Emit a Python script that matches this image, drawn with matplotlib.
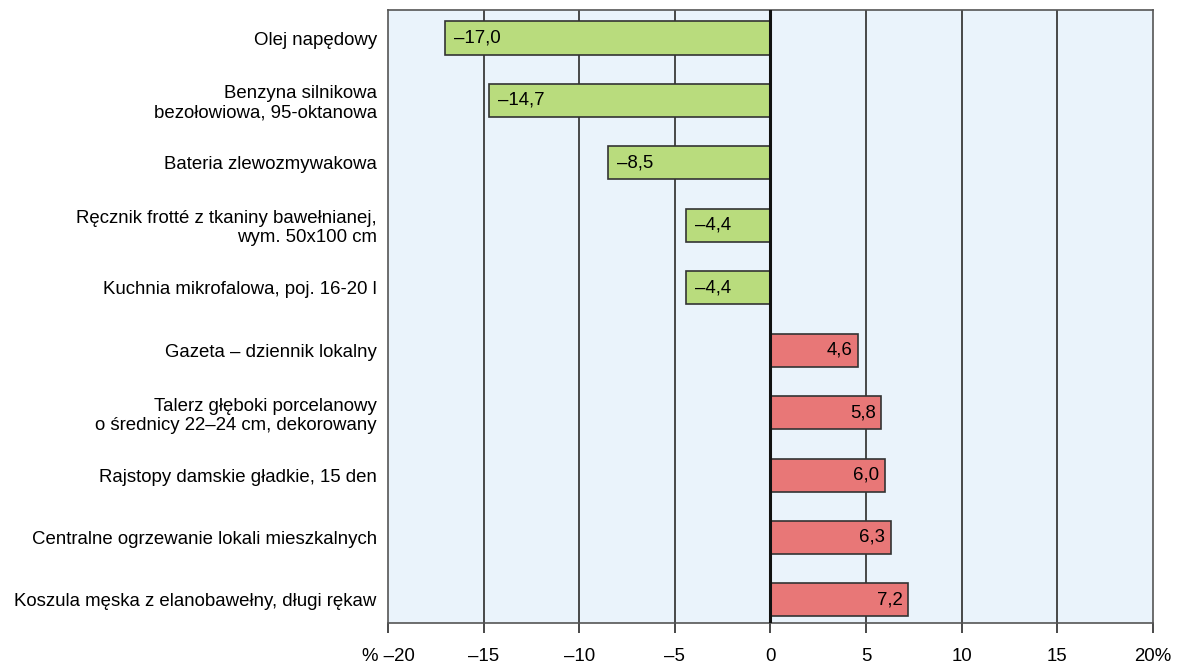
import matplotlib
matplotlib.use("Agg")
import matplotlib.pyplot as plt

categories = [
    "Olej napędowy",
    "Benzyna silnikowa\nbezołowiowa, 95-oktanowa",
    "Bateria zlewozmywakowa",
    "Ręcznik frotté z tkaniny bawełnianej,\nwym. 50x100 cm",
    "Kuchnia mikrofalowa, poj. 16-20 l",
    "Gazeta – dziennik lokalny",
    "Talerz głęboki porcelanowy\no średnicy 22–24 cm, dekorowany",
    "Rajstopy damskie gładkie, 15 den",
    "Centralne ogrzewanie lokali mieszkalnych",
    "Koszula męska z elanobawełny, długi rękaw",
]
values = [-17.0, -14.7, -8.5, -4.4, -4.4, 4.6, 5.8, 6.0, 6.3, 7.2]
xticks = [-20, -15, -10, -5, 0, 5, 10, 15, 20]
xticklabels = ["% –20", "–15", "–10", "–5", "0", "5", "10", "15", "20%"]

plt.rcParams['font.family'] = ['Liberation Sans', 'DejaVu Sans']
plt.rcParams['font.size'] = 13.4

fig = plt.figure(figsize=(11.81, 6.63), dpi=100)
ax = fig.add_axes([0.3285, 0.0603, 0.6478, 0.9247])
ax.set_facecolor('#EAF3FB')

for x in xticks[1:-1]:
    if x == 0:
        continue
    ax.axvline(x, color='#3a3a3a', linewidth=1.3, zorder=1)

ypos = list(range(len(categories)))
colors = ['#B9DC7D' if v < 0 else '#E87777' for v in values]
ax.barh(ypos, values, height=0.53, color=colors, edgecolor='#333333',
        linewidth=1.2, zorder=2)
ax.axvline(0, color='#111111', linewidth=2.2, zorder=3)

for y, v in zip(ypos, values):
    label = f"{abs(v):.1f}".replace('.', ',')
    if v < 0:
        ax.text(v + 0.45, y, "–" + label, ha='left', va='center', zorder=4)
    else:
        ax.text(v - 0.3, y, label, ha='right', va='center', zorder=4)

ax.set_xlim(-20, 20)
ax.set_ylim(9.37, -0.45)
ax.set_yticks(ypos)
ax.set_yticklabels(categories, ha='right', linespacing=1.15)
ax.tick_params(axis='y', length=0, pad=8)
ax.set_xticks(xticks)
ax.set_xticklabels(xticklabels)
ax.tick_params(axis='x', direction='out', length=7, width=1.3,
               color='#3a3a3a', pad=11)
for s in ax.spines.values():
    s.set_color('#555555')
    s.set_linewidth(1.2)

plt.savefig('out.png', dpi=100)
